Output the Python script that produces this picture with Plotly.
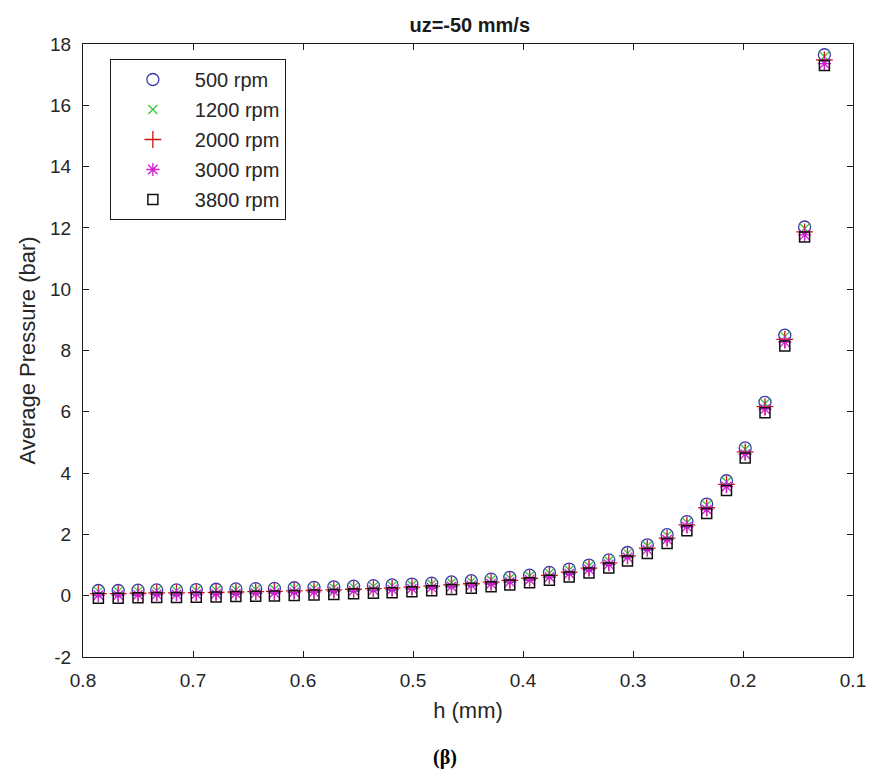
import plotly.graph_objects as go

# gap height h (mm), decreasing as the plate approaches
h_mm = [0.786, 0.768, 0.750, 0.733, 0.715, 0.697, 0.679, 0.661, 0.643, 0.626,
        0.608, 0.590, 0.572, 0.554, 0.536, 0.519, 0.501, 0.483, 0.465, 0.447,
        0.429, 0.412, 0.394, 0.376, 0.358, 0.340, 0.322, 0.305, 0.287, 0.269,
        0.251, 0.233, 0.215, 0.198, 0.180, 0.162, 0.144, 0.126]

# average film pressure (bar) for each rotational speed
p_500 = [0.17, 0.17, 0.18, 0.19, 0.19, 0.20, 0.21, 0.22, 0.23, 0.24,
         0.26, 0.27, 0.29, 0.31, 0.33, 0.35, 0.38, 0.41, 0.45, 0.49,
         0.54, 0.60, 0.67, 0.76, 0.87, 1.00, 1.17, 1.41, 1.66, 1.99,
         2.42, 2.99, 3.75, 4.82, 6.31, 8.50, 12.03, 17.65]
p_1200 = [0.14, 0.14, 0.15, 0.16, 0.16, 0.17, 0.18, 0.19, 0.20, 0.21,
          0.23, 0.24, 0.26, 0.28, 0.30, 0.32, 0.35, 0.38, 0.42, 0.46,
          0.51, 0.57, 0.64, 0.73, 0.84, 0.97, 1.14, 1.38, 1.63, 1.96,
          2.39, 2.96, 3.72, 4.78, 6.27, 8.46, 11.98, 17.59]
p_2000 = [0.07, 0.07, 0.08, 0.09, 0.09, 0.10, 0.11, 0.12, 0.13, 0.14,
          0.16, 0.17, 0.19, 0.21, 0.23, 0.25, 0.28, 0.31, 0.35, 0.39,
          0.44, 0.50, 0.57, 0.66, 0.77, 0.90, 1.07, 1.30, 1.55, 1.88,
          2.31, 2.87, 3.63, 4.69, 6.17, 8.36, 11.87, 17.48]
p_3000 = [0.02, 0.02, 0.03, 0.04, 0.04, 0.05, 0.06, 0.07, 0.08, 0.09,
          0.11, 0.12, 0.14, 0.16, 0.18, 0.20, 0.23, 0.26, 0.30, 0.34,
          0.39, 0.45, 0.52, 0.61, 0.72, 0.85, 1.02, 1.25, 1.50, 1.83,
          2.25, 2.81, 3.56, 4.62, 6.09, 8.27, 11.77, 17.36]
p_3800 = [-0.08, -0.08, -0.07, -0.06, -0.06, -0.05, -0.04, -0.03, -0.02, -0.01,
          0.01, 0.02, 0.04, 0.06, 0.08, 0.10, 0.13, 0.16, 0.20, 0.24,
          0.29, 0.35, 0.42, 0.50, 0.61, 0.74, 0.90, 1.13, 1.38, 1.70,
          2.12, 2.68, 3.43, 4.49, 5.97, 8.15, 11.70, 17.30]

series_names = ["500 rpm", "1200 rpm", "2000 rpm", "3000 rpm", "3800 rpm"]
x_ticks = [0.8, 0.7, 0.6, 0.5, 0.4, 0.3, 0.2, 0.1]
y_ticks = [-2, 0, 2, 4, 6, 8, 10, 12, 14, 16, 18]

styles = [
    dict(symbol="circle-open", color="#3a3aa8", size=12, width=1.3),
    dict(symbol="x-thin-open", color="#3cc83c", size=9, width=1.3),
    dict(symbol="cross-thin-open", color="#c81414", size=12, width=1.3),
    dict(symbol="asterisk-open", color="#d21ed2", size=11, width=1.3),
    dict(symbol="square-open", color="#111111", size=10, width=1.5),
]

fig = go.Figure()
for name, vals, st in zip(series_names, [p_500, p_1200, p_2000, p_3000, p_3800], styles):
    fig.add_trace(go.Scatter(
        x=h_mm, y=vals, mode="markers", name=name, legendgroup=name,
        marker=dict(symbol=st["symbol"], size=st["size"], color=st["color"],
                    line=dict(color=st["color"], width=st["width"])),
    ))

font_main = "Liberation Sans, Arial, sans-serif"
axis_common = dict(
    showline=True, linecolor="#1a1a1a", linewidth=1, mirror="ticks",
    ticks="inside", ticklen=6, tickcolor="#1a1a1a", showgrid=False,
    zeroline=False, tickfont=dict(family=font_main, size=19, color="#262626"),
)

fig.update_layout(
    width=878, height=778,
    margin=dict(l=83, r=21, t=44, b=121),
    paper_bgcolor="white", plot_bgcolor="white",
    title=dict(text="<b>uz=-50 mm/s</b>", x=0.535, xanchor="center",
               y=1 - 25 / 778, yanchor="middle",
               font=dict(family=font_main, size=20, color="#1a1a1a")),
    xaxis=dict(range=[0.8, 0.1], tickvals=x_ticks,
               ticktext=[f"{v:.1f}" for v in x_ticks],
               ticklabelstandoff=6,
               title=dict(text="h (mm)", standoff=12,
                          font=dict(family=font_main, size=22, color="#262626")),
               **axis_common),
    yaxis=dict(range=[-2, 18], tickvals=y_ticks,
               ticktext=[str(v) for v in y_ticks],
               ticklabelstandoff=7,
               title=dict(text="Average Pressure (bar)", standoff=8,
                          font=dict(family=font_main, size=22, color="#262626")),
               **axis_common),
    legend=dict(x=(110 - 83) / 774, y=1 - (59 - 44) / 613,
                xanchor="left", yanchor="top",
                bordercolor="#1a1a1a", borderwidth=1, bgcolor="white",
                font=dict(family=font_main, size=20, color="#262626"),
                tracegroupgap=1, itemwidth=74),
    showlegend=True,
)

fig.add_annotation(text="<b>(β)</b>", xref="paper", yref="paper",
                   x=0.47, y=-(757 - 657) / 613, yanchor="middle",
                   showarrow=False,
                   font=dict(family="Liberation Serif, Times New Roman, serif",
                             size=20, color="black"))

fig.write_html("out.html")
